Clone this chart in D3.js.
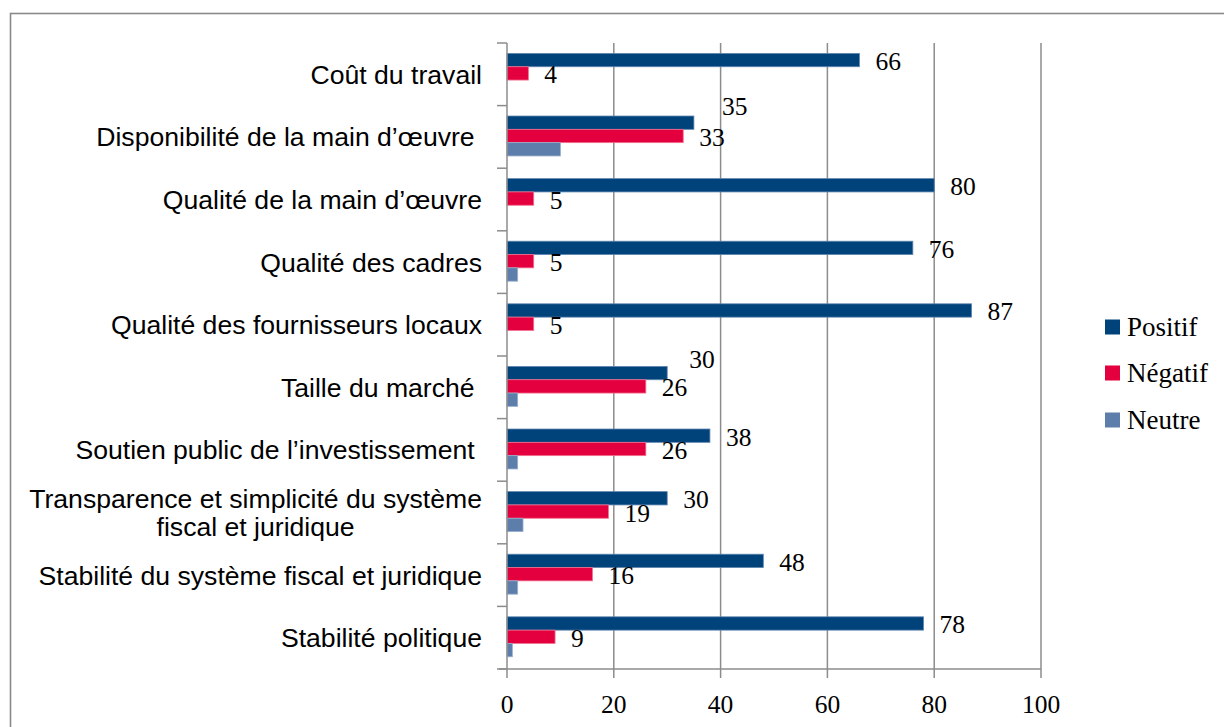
<!DOCTYPE html>
<html>
<head>
<meta charset="utf-8">
<script src="https://cdn.jsdelivr.net/npm/d3@7"></script>
<style>
  html, body { margin: 0; padding: 0; background: #fff; }
  svg { display: block; }
</style>
</head>
<body>
<svg id="chart" width="1224" height="727"></svg>
<script>
// ---- data ----
const categories = [
  "Coût du travail",
  "Disponibilité de la main d’œuvre ",
  "Qualité de la main d’œuvre",
  "Qualité des cadres",
  "Qualité des fournisseurs locaux",
  "Taille du marché ",
  "Soutien public de l’investissement ",
  "Transparence et simplicité du système\nfiscal et juridique",
  "Stabilité du système fiscal et juridique",
  "Stabilité politique"
];
const seriesNames = ["Positif", "Négatif", "Neutre"];
const positif = [66, 35, 80, 76, 87, 30, 38, 30, 48, 78];
const negatif = [4, 33, 5, 5, 5, 26, 26, 19, 16, 9];
const neutre  = [0, 10, 0, 2, 0, 2, 2, 3, 2, 1];
const xTicks = [0, 20, 40, 60, 80, 100];

// label nudges (manual placements in the original), [dx, dy] per category for "Positif"
const positifLabelNudge = [[0,0],[12,-18],[0,0],[0,0],[0,0],[6,-15],[0,0],[0,0],[0,0],[0,0]];

const seriesValues = [positif, negatif, neutre];
const colors = ["#00427a", "#e4003f", "#5d7eab"];
const strokes = ["#5f86b0", "#f0708f", "#98afcc"];
const showLabels = [true, true, false];

const svg = d3.select("#chart");

// outer frame
svg.append("rect")
  .attr("x", 10.5).attr("y", 13.5)
  .attr("width", 1400).attr("height", 900)
  .attr("fill", "none").attr("stroke", "#8a8a8a").attr("stroke-width", 1.6);

const plot = { left: 507, right: 1041, top: 43, bottom: 669 };

const x = d3.scaleLinear().domain([0, 100]).range([plot.left, plot.right]);
const y = d3.scaleBand().domain(d3.range(categories.length)).range([plot.top, plot.bottom]).padding(0);
const ys = d3.scaleBand().domain(d3.range(seriesNames.length))
  .range([0, y.bandwidth()]).paddingInner(0).paddingOuter(0.85).align(0.46);

const gridColor = "#8c8c8c";

// vertical gridlines
svg.append("g").selectAll("line")
  .data(xTicks.filter(t => t > 0))
  .join("line")
  .attr("x1", d => x(d)).attr("x2", d => x(d))
  .attr("y1", plot.top).attr("y2", plot.bottom)
  .attr("stroke", gridColor).attr("stroke-width", 1.5);

// bars
seriesValues.forEach((vals, s) => {
  svg.append("g").selectAll("rect")
    .data(vals.map((v, i) => ({ v, i })).filter(d => d.v > 0))
    .join("rect")
    .attr("x", x(0))
    .attr("y", d => y(d.i) + ys(s))
    .attr("width", d => x(d.v) - x(0))
    .attr("height", ys.bandwidth())
    .attr("fill", colors[s])
    .attr("stroke", strokes[s]).attr("stroke-width", 0.8);
});

// data labels
const labelFont = "'Liberation Serif', 'DejaVu Serif', serif";
seriesValues.forEach((vals, s) => {
  if (!showLabels[s]) return;
  svg.append("g").selectAll("text")
    .data(vals.map((v, i) => ({ v, i })))
    .join("text")
    .attr("x", d => x(d.v) + 16 + (s === 0 ? positifLabelNudge[d.i][0] : 0))
    .attr("y", d => y(d.i) + ys(s) + ys.bandwidth() / 2 + 1 + (s === 0 ? positifLabelNudge[d.i][1] : 0))
    .attr("dy", "0.35em")
    .attr("font-family", labelFont)
    .attr("font-size", 25.5)
    .attr("fill", "#000")
    .text(d => d.v);
});

// y axis
const yAxis = svg.append("g");
yAxis.append("line")
  .attr("x1", plot.left).attr("x2", plot.left)
  .attr("y1", plot.top).attr("y2", plot.bottom)
  .attr("stroke", gridColor).attr("stroke-width", 1.5);
yAxis.selectAll("line.tick")
  .data(d3.range(categories.length + 1))
  .join("line").attr("class", "tick")
  .attr("x1", plot.left - 10).attr("x2", plot.left)
  .attr("y1", d => plot.top + d * y.step()).attr("y2", d => plot.top + d * y.step())
  .attr("stroke", gridColor).attr("stroke-width", 1.5);

// category labels
const catFont = "'Liberation Sans', Arial, sans-serif";
const catSize = 26.6;
categories.forEach((c, i) => {
  const lines = c.split("\n");
  const cy = y(i) + y.bandwidth() / 2;
  const lh = 28;
  if (lines.length === 1) {
    svg.append("text")
      .attr("x", 482).attr("y", cy).attr("dy", "0.36em")
      .attr("text-anchor", "end")
      .attr("font-family", catFont).attr("font-size", catSize)
      .attr("fill", "#000")
      .style("white-space", "pre")
      .text(c);
  } else {
    // centered block, right edge at 482
    const tmp = svg.append("text")
      .attr("font-family", catFont).attr("font-size", catSize)
      .text(lines[0]);
    const w = tmp.node().getComputedTextLength();
    tmp.remove();
    const cx = 482 - w / 2;
    const t = svg.append("text")
      .attr("text-anchor", "middle")
      .attr("font-family", catFont).attr("font-size", catSize)
      .attr("fill", "#000");
    lines.forEach((ln, k) => {
      t.append("tspan")
        .attr("x", cx)
        .attr("y", cy + (k - (lines.length - 1) / 2) * lh)
        .attr("dy", "0.36em")
        .text(ln);
    });
  }
});

// x axis
const xAxis = svg.append("g");
xAxis.append("line")
  .attr("x1", plot.left - 8).attr("x2", plot.right)
  .attr("y1", plot.bottom).attr("y2", plot.bottom)
  .attr("stroke", gridColor).attr("stroke-width", 1.5);
xAxis.selectAll("line.tick")
  .data(xTicks).join("line").attr("class", "tick")
  .attr("x1", d => x(d)).attr("x2", d => x(d))
  .attr("y1", plot.bottom).attr("y2", plot.bottom + 9)
  .attr("stroke", gridColor).attr("stroke-width", 1.5);
xAxis.selectAll("text")
  .data(xTicks).join("text")
  .attr("x", d => x(d)).attr("y", 713)
  .attr("text-anchor", "middle")
  .attr("font-family", labelFont).attr("font-size", 25.5)
  .attr("fill", "#000")
  .text(d => d);

// legend
const legend = svg.append("g");
const legendY = [327, 373, 420];
seriesNames.forEach((n, s) => {
  legend.append("rect")
    .attr("x", 1105).attr("y", legendY[s] - 7.5)
    .attr("width", 15).attr("height", 15)
    .attr("fill", colors[s]);
  legend.append("text")
    .attr("x", 1127).attr("y", legendY[s]).attr("dy", "0.35em")
    .attr("font-family", labelFont).attr("font-size", 27)
    .attr("fill", "#000")
    .text(n);
});
</script>
</body>
</html>
